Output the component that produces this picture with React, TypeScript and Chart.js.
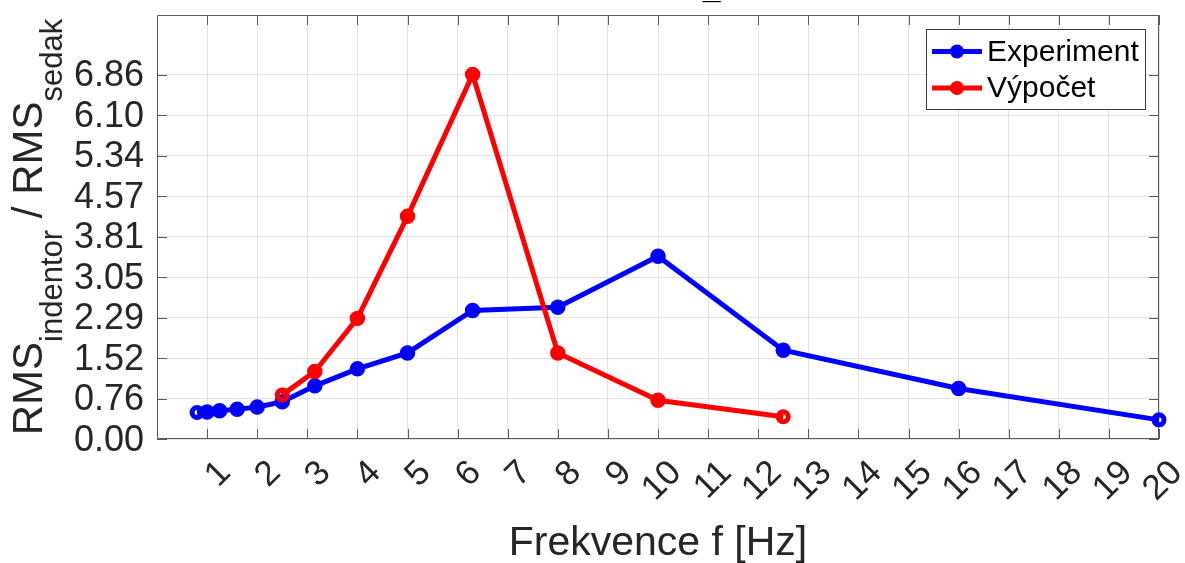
import React, { useEffect, useRef } from 'react';
import { Chart, registerables } from 'chart.js';

Chart.register(...registerables);

// ---- data ----
const experimentFrequencies = [0.8, 1, 1.25, 1.6, 2, 2.5, 3.15, 4, 5, 6.3, 8, 10, 12.5, 16, 20];
const experimentValues = [0.5, 0.51, 0.53, 0.56, 0.6, 0.7, 1.0, 1.32, 1.62, 2.42, 2.48, 3.44, 1.67, 0.95, 0.36];
const vypocetFrequencies = [2.5, 3.15, 4, 5, 6.3, 8, 10, 12.5];
const vypocetValues = [0.83, 1.27, 2.27, 4.19, 6.86, 1.62, 0.73, 0.42];
const xTickValues = [1, 2, 3, 4, 5, 6, 7, 8, 9, 10, 11, 12, 13, 14, 15, 16, 17, 18, 19, 20];
const xTickLabels = ['1', '2', '3', '4', '5', '6', '7', '8', '9', '10', '11', '12', '13', '14', '15', '16', '17', '18', '19', '20'];
const yTickValues = [0, 0.7622, 1.5244, 2.2867, 3.0489, 3.8111, 4.5733, 5.3356, 6.0978, 6.86];
const yTickLabels = ['0.00', '0.76', '1.52', '2.29', '3.05', '3.81', '4.57', '5.34', '6.10', '6.86'];
const seriesLabels = ['Experiment', 'Výpočet'];
const xAxisTitle = 'Frekvence f [Hz]';
const yAxisTitleParts = [
  { text: 'RMS', sub: false },
  { text: 'indentor', sub: true },
  { text: ' / ', sub: false },
  { text: 'RMS', sub: false },
  { text: 'sedak', sub: true },
];
const titleRemnant = '_';

// ---- style ----
const FONT = '"Liberation Sans", Arial, Helvetica, sans-serif';
const BLUE = '#0000ff';
const RED = '#ff0000';
const TEXT = '#262626';
const GRID = '#e2e2e2';
const AXIS = '#5a5a5a';

const isEnd = (ctx: any) =>
  ctx.dataIndex === 0 || ctx.dataIndex === ctx.dataset.data.length - 1;

const makeDataset = (label: string, xs: number[], ys: number[], color: string, order: number) => ({
  label,
  data: xs.map((x, i) => ({ x, y: ys[i] })),
  borderColor: color,
  backgroundColor: color,
  borderWidth: 5,
  pointRadius: (ctx: any) => (isEnd(ctx) ? 5 : 6.5),
  pointBorderWidth: (ctx: any) => (isEnd(ctx) ? 5 : 2.5),
  pointBackgroundColor: (ctx: any) => (isEnd(ctx) ? 'rgba(0,0,0,0)' : color),
  pointBorderColor: color,
  pointHoverRadius: 6.5,
  tension: 0,
  clip: false as any,
  order,
});

const axesPlugin = {
  id: 'matlabAxes',
  beforeDatasetsDraw(chart: any) {
    const { ctx, chartArea } = chart;
    const { left, right, top, bottom } = chartArea;
    const xs = chart.scales.x;
    const ys = chart.scales.y;
    ctx.save();
    ctx.strokeStyle = AXIS;
    ctx.lineWidth = 1;
    ctx.beginPath();
    ctx.rect(left + 0.5, top + 0.5, right - left - 1, bottom - top - 1);
    ctx.stroke();
    ctx.beginPath();
    xTickValues.forEach((v) => {
      const px = Math.round(xs.getPixelForValue(v)) + 0.5;
      ctx.moveTo(px, bottom);
      ctx.lineTo(px, bottom - 10);
      ctx.moveTo(px, top);
      ctx.lineTo(px, top + 10);
    });
    yTickValues.forEach((v) => {
      const py = Math.round(ys.getPixelForValue(v)) + 0.5;
      ctx.moveTo(left, py);
      ctx.lineTo(left + 10, py);
      ctx.moveTo(right, py);
      ctx.lineTo(right - 10, py);
    });
    ctx.stroke();
    ctx.restore();
  },
};

const overlayPlugin = {
  id: 'matlabOverlay',
  afterDraw(chart: any) {
    const { ctx, chartArea } = chart;
    const { left, right, top, bottom } = chartArea;
    const xs = chart.scales.x;
    ctx.save();

    // x tick labels, rotated 45 degrees
    ctx.fillStyle = TEXT;
    ctx.font = `35px ${FONT}`;
    ctx.textAlign = 'right';
    ctx.textBaseline = 'middle';
    xTickValues.forEach((v, i) => {
      const px = xs.getPixelForValue(v);
      ctx.save();
      ctx.translate(px + 18, bottom + 28.5);
      ctx.rotate(-Math.PI / 4);
      ctx.fillText(xTickLabels[i], 0, 0);
      ctx.restore();
    });

    // x axis title
    ctx.font = `41px ${FONT}`;
    ctx.textAlign = 'center';
    ctx.textBaseline = 'alphabetic';
    ctx.fillText(xAxisTitle, (left + right) / 2, 555);

    // y axis title with subscripts
    const mainFont = `42px ${FONT}`;
    const subFont = `31px ${FONT}`;
    let total = 0;
    const widths = yAxisTitleParts.map((p) => {
      ctx.font = p.sub ? subFont : mainFont;
      const w = ctx.measureText(p.text).width;
      total += w;
      return w;
    });
    ctx.save();
    ctx.translate(42, (top + bottom) / 2);
    ctx.rotate(-Math.PI / 2);
    ctx.textAlign = 'left';
    let cx = -total / 2;
    yAxisTitleParts.forEach((p, i) => {
      ctx.font = p.sub ? subFont : mainFont;
      ctx.fillText(p.text, cx, p.sub ? 20 : 0);
      cx += widths[i];
    });
    ctx.restore();

    // legend
    const boxRight = right - 13;
    const boxLeft = boxRight - 220;
    const boxTop = top + 14;
    const boxH = 81;
    ctx.fillStyle = '#ffffff';
    ctx.fillRect(boxLeft, boxTop, boxRight - boxLeft, boxH);
    ctx.strokeStyle = '#3a3a3a';
    ctx.lineWidth = 1;
    ctx.strokeRect(boxLeft + 0.5, boxTop + 0.5, boxRight - boxLeft - 1, boxH - 1);
    const rows = [
      { label: seriesLabels[0], color: BLUE, y: boxTop + 22.5 },
      { label: seriesLabels[1], color: RED, y: boxTop + 59 },
    ];
    rows.forEach((r) => {
      ctx.strokeStyle = r.color;
      ctx.lineWidth = 5;
      ctx.beginPath();
      ctx.moveTo(boxLeft + 6, r.y);
      ctx.lineTo(boxLeft + 56, r.y);
      ctx.stroke();
      ctx.fillStyle = r.color;
      ctx.beginPath();
      ctx.arc(boxLeft + 31, r.y, 7, 0, Math.PI * 2);
      ctx.fill();
      ctx.fillStyle = '#000000';
      ctx.font = `30px ${FONT}`;
      ctx.textAlign = 'left';
      ctx.textBaseline = 'middle';
      ctx.fillText(r.label, boxLeft + 61, r.y + 1);
    });

    // cut-off title remnant at the very top
    ctx.font = `bold 32px ${FONT}`;
    ctx.fillStyle = '#000000';
    ctx.textAlign = 'left';
    ctx.textBaseline = 'alphabetic';
    const m = ctx.measureText(titleRemnant);
    ctx.fillText(titleRemnant, 702.7, 3 - m.actualBoundingBoxDescent);

    ctx.restore();
  },
};

export default function App() {
  const ref = useRef<HTMLCanvasElement>(null);
  useEffect(() => {
    const canvas = ref.current;
    if (!canvas) return;
    const chart = new Chart(canvas, {
      type: 'line',
      data: {
        datasets: [
          makeDataset(seriesLabels[0], experimentFrequencies, experimentValues, BLUE, 1),
          makeDataset(seriesLabels[1], vypocetFrequencies, vypocetValues, RED, 0),
        ] as any,
      },
      options: {
        responsive: false,
        animation: false,
        devicePixelRatio: 1,
        layout: { padding: { left: 0, top: 15, right: 26, bottom: 0 } },
        plugins: {
          legend: { display: false },
          tooltip: { enabled: false },
          title: { display: false },
        },
        scales: {
          x: {
            type: 'linear',
            min: 0,
            max: 20,
            afterBuildTicks: (s: any) => {
              s.ticks = xTickValues.map((v) => ({ value: v }));
            },
            afterFit: (s: any) => {
              s.height = 124;
              s.paddingLeft = 0;
              s.paddingRight = 0;
            },
            ticks: { display: false },
            grid: { color: GRID, lineWidth: 1, drawTicks: false },
            border: { display: false },
          },
          y: {
            type: 'linear',
            min: 0,
            max: 7.98,
            afterBuildTicks: (s: any) => {
              s.ticks = yTickValues.map((v) => ({ value: v }));
            },
            afterFit: (s: any) => {
              s.width = 157;
              s.paddingTop = 0;
              s.paddingBottom = 0;
            },
            ticks: {
              autoSkip: false,
              padding: 13,
              labelOffset: 2,
              color: TEXT,
              font: { family: FONT, size: 36 },
              callback: (value: any) => {
                const i = yTickValues.findIndex((v) => Math.abs(v - Number(value)) < 1e-6);
                return i >= 0 ? yTickLabels[i] : '';
              },
            },
            grid: { color: GRID, lineWidth: 1, drawTicks: false },
            border: { display: false },
          },
        },
      } as any,
      plugins: [axesPlugin, overlayPlugin],
    });
    return () => chart.destroy();
  }, []);
  return (
    <div style={{ position: 'fixed', left: 0, top: 0, width: 1185, height: 563, background: '#ffffff' }}>
      <canvas ref={ref} width={1185} height={563} style={{ display: 'block', width: '1185px', height: '563px' }} />
    </div>
  );
}
